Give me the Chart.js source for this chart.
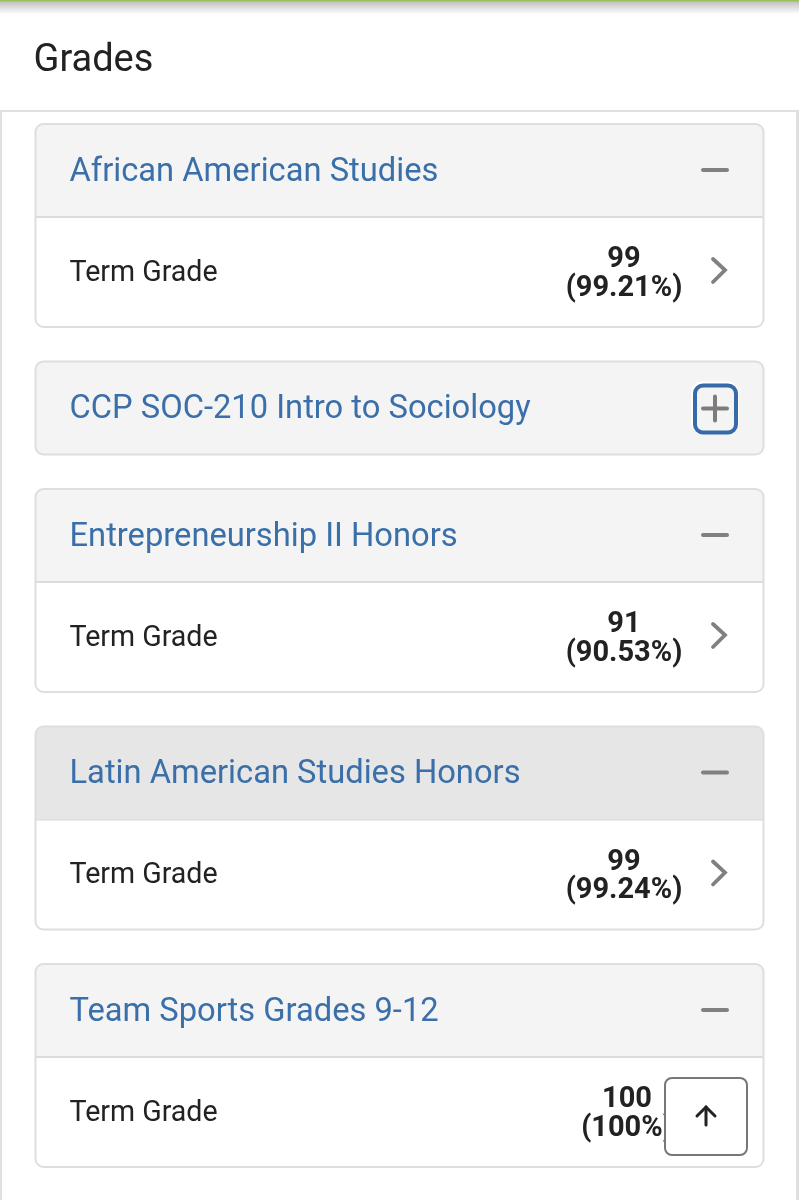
<!DOCTYPE html>
<html>
<head>
<meta charset="utf-8">
<title>Grades</title>
<script src="https://cdn.jsdelivr.net/npm/chart.js@4"></script>
<style>
    html, body { margin: 0; padding: 0; background: #fff; overflow: hidden; }
    canvas { display: block; }
</style>
</head>
<body>
<canvas id="gradesChart" width="799" height="1200"></canvas>
<script>
const pageTitle = 'Grades';
const rowLabel = 'Term Grade';
const courses = ['African American Studies', 'CCP SOC-210 Intro to Sociology', 'Entrepreneurship II Honors', 'Latin American Studies Honors', 'Team Sports Grades 9-12'];
const grades = [99, null, 91, 99, 100];
const percents = [99.21, null, 90.53, 99.24, 100];

function box(ctx, x, y, w, h, r) {
    ctx.beginPath();
    ctx.roundRect(x, y, w, h, r);
}

function line(ctx, pts, color, width) {
    ctx.beginPath();
    pts.forEach((p, i) => i ? ctx.lineTo(p[0], p[1]) : ctx.moveTo(p[0], p[1]));
    ctx.strokeStyle = color;
    ctx.lineWidth = width;
    ctx.lineCap = 'round';
    ctx.lineJoin = 'miter';
    ctx.stroke();
}

function text(ctx, str, x, y, font, color, align) {
    ctx.font = font;
    ctx.fillStyle = color;
    ctx.textAlign = align || 'left';
    ctx.textBaseline = 'alphabetic';
    ctx.fillText(str, x, y);
}

// the page around the cards: top bar, title, frame of the scroll area
function drawFrame(ctx) {
    const shade = ctx.createLinearGradient(0, 0, 0, 14);
    shade.addColorStop(0, 'rgba(0,0,0,0.28)');
    shade.addColorStop(1, 'rgba(0,0,0,0)');
    ctx.fillStyle = shade;
    ctx.fillRect(0, 0, 799, 14);
    ctx.fillStyle = '#9bc15a';
    ctx.fillRect(0, 0, 799, 1.5);

    text(ctx, pageTitle, 33.5, 71, '38px Roboto', '#222');

    ctx.fillStyle = '#e0e0e0';
    ctx.fillRect(0, 110, 799, 2);
    ctx.fillRect(0, 112, 2, 1088);
    ctx.fillRect(796, 112, 3, 1088);
}

function drawCard(ctx, i, top) {
    const x = 35.5, w = 728, headH = 92, bodyH = 111;
    const open = grades[i] !== null;
    const h = open ? headH + bodyH : headH + 1;
    const midY = top + 46;

    box(ctx, x, top, w, h, 8);
    ctx.fillStyle = '#fff';
    ctx.fill();

    ctx.save();
    box(ctx, x, top, w, h, 8);
    ctx.clip();
    ctx.fillStyle = i === 3 ? '#e6e6e6' : '#f4f4f4';
    ctx.fillRect(x, top, w, open ? headH : h);
    ctx.restore();

    if (open) {
        ctx.fillStyle = '#dcdcdc';
        ctx.fillRect(x, top + headH, w, 2);
    }
    box(ctx, x, top, w, h, 8);
    ctx.strokeStyle = '#dedede';
    ctx.lineWidth = 2;
    ctx.stroke();

    text(ctx, courses[i], 69.5, top + 56.5, '32.7px Roboto', '#3a6fa9');

    if (!open) {
        // collapsed card, plus button has keyboard focus
        box(ctx, 691, top + 20, 48, 52, 11);
        ctx.fillStyle = '#fff';
        ctx.fill();
        box(ctx, 695, top + 24, 41, 47, 8);
        ctx.fillStyle = '#f4f4f4';
        ctx.fill();
        ctx.strokeStyle = '#356ba8';
        ctx.lineWidth = 4;
        ctx.stroke();
        line(ctx, [[703, midY + 1], [727, midY + 1]], '#7c7c7c', 4);
        line(ctx, [[715, midY - 11], [715, midY + 13]], '#7c7c7c', 4);
        return;
    }

    line(ctx, [[703, midY], [727, midY]], '#808080', 4);

    text(ctx, rowLabel, 69.5, top + 156.5, '28.6px Roboto', '#222');
    const gradeX = i === 4 ? 627 : 624;
    text(ctx, String(grades[i]), gradeX, top + 143, 'bold 29px Roboto', '#222', 'center');
    text(ctx, '(' + percents[i] + '%)', gradeX, top + 171.5, 'bold 29px Roboto', '#222', 'center');

    if (i < 4) {
        line(ctx, [[713, top + 135], [725, top + 146], [713, top + 158]], '#808080', 3.8);
    }
}

// back-to-top button sits over the last card
function drawTopButton(ctx) {
    box(ctx, 665, 1078, 82, 77, 7);
    ctx.fillStyle = '#fff';
    ctx.fill();
    ctx.strokeStyle = '#777';
    ctx.lineWidth = 2;
    ctx.stroke();
    line(ctx, [[706, 1107], [706, 1125]], '#222', 3);
    line(ctx, [[697, 1116], [706, 1107], [715, 1116]], '#222', 3);
}

const gradeCards = {
    id: 'gradeCards',
    beforeDatasetsDraw(chart) {
        const ctx = chart.ctx;
        ctx.save();
        drawFrame(ctx);
        let top = 124;
        courses.forEach((c, i) => {
            drawCard(ctx, i, top);
            top += grades[i] !== null ? 237.5 : 127.5;
        });
        drawTopButton(ctx);
        ctx.restore();
    }
};

new Chart(document.getElementById('gradesChart').getContext('2d'), {
    type: 'bar',
    data: {
        labels: courses,
        datasets: [{
            label: rowLabel,
            data: percents,
            backgroundColor: 'rgba(0,0,0,0)'
        }]
    },
    options: {
        indexAxis: 'y',
        responsive: false,
        animation: false,
        events: [],
        plugins: {
            legend: {display: false},
            title: {display: false},
            tooltip: {enabled: false}
        },
        scales: {
            x: {display: false, min: 0, max: 100},
            y: {display: false}
        }
    },
    plugins: [gradeCards]
});
</script>
</body>
</html>
